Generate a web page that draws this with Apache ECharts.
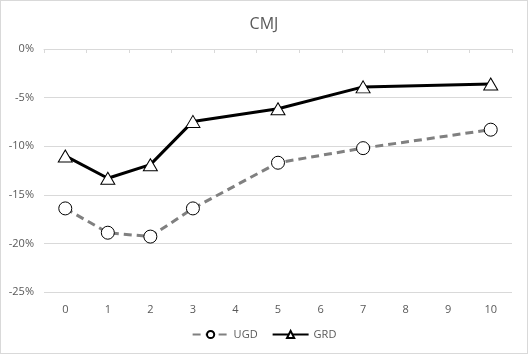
<!DOCTYPE html>
<html lang="en">
<head>
    <meta charset="UTF-8">
    <title>CMJ</title>
    <script src="https://cdn.jsdelivr.net/npm/echarts@6/dist/echarts.min.js"></script>
    <style>
        html, body { margin: 0; padding: 0; background: #fff; }
        #main { width: 526px; height: 352px; border: 1px solid #d9d9d9; }
    </style>
</head>
<body>
<div id="main"></div>
<script type="text/javascript">
    // x 轴类别（4、6、8、9 没有测量值）
    var weeks = ['0', '1', '2', '3', '4', '5', '6', '7', '8', '9', '10'];
    // 各组数值（%），null 表示没有数据
    var ugd = [-16.4, -18.9, -19.3, -16.4, null, -11.7, null, -10.2, null, null, -8.3];
    var grd = [-11.0, -13.3, -11.9, -7.45, null, -6.15, null, -3.9, null, null, -3.6];
    var yTicks = [0, -5, -10, -15, -20, -25];

    var myChart = echarts.init(document.getElementById('main'));
    var txt = '#595959';
    var font = 'Open Sans';

    myChart.setOption({
        animation: false,
        title: {
            text: 'CMJ',
            left: 'center',
            top: 10,
            textStyle: { color: txt, fontSize: 16, fontWeight: 'normal', fontFamily: font }
        },
        legend: {
            bottom: 8,
            itemGap: 14,
            itemWidth: 36,
            itemHeight: 9,
            textStyle: { color: txt, fontSize: 11, fontFamily: font },
            data: ['UGD', 'GRD']
        },
        grid: { left: 43, right: 15, top: 48, bottom: 61 },
        xAxis: [
            {
                // 底部标签
                type: 'category',
                data: weeks,
                position: 'bottom',
                axisLine: { show: false },
                axisTick: { show: false },
                axisLabel: { color: txt, fontSize: 11, fontFamily: font, margin: 12 }
            },
            {
                // 0% 处的轴线和刻度
                type: 'category',
                data: weeks,
                position: 'top',
                axisLine: { show: true, lineStyle: { color: '#d9d9d9', width: 1 } },
                axisTick: { show: true, inside: true, length: 4, lineStyle: { color: '#d9d9d9' } },
                axisLabel: { show: false }
            }
        ],
        yAxis: {
            type: 'value',
            min: -25,
            max: 0,
            interval: 5,
            axisLine: { show: false },
            axisTick: { show: false },
            axisLabel: {
                color: txt, fontSize: 11, fontFamily: font, margin: 10,
                formatter: function (v) { return v + '%'; }
            },
            splitLine: { lineStyle: { color: '#d9d9d9', width: 1 } }
        },
        series: [
            {
                name: 'UGD',
                type: 'line',
                data: ugd,
                connectNulls: true,
                symbol: 'circle',
                symbolSize: 13,
                itemStyle: { color: '#fff', borderColor: '#000', borderWidth: 1 },
                lineStyle: { color: '#808080', width: 3, type: [8, 5] },
                z: 2
            },
            {
                name: 'GRD',
                type: 'line',
                data: grd,
                connectNulls: true,
                symbol: 'triangle',
                symbolSize: [14, 12],
                itemStyle: { color: '#fff', borderColor: '#000', borderWidth: 1 },
                lineStyle: { color: '#000', width: 3 },
                z: 3
            }
        ]
    });
</script>
</body>
</html>
